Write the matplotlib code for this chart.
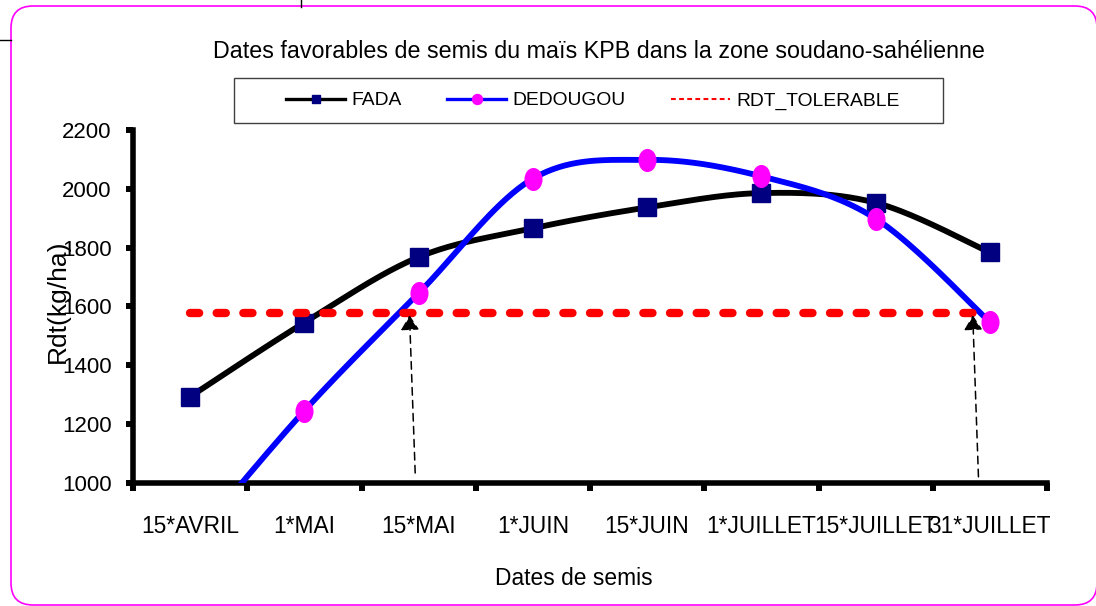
import matplotlib
matplotlib.use("Agg")
import matplotlib.pyplot as plt
import numpy as np
from matplotlib import font_manager
from matplotlib.lines import Line2D
from matplotlib.patches import FancyBboxPatch, Rectangle
from matplotlib.path import Path
from matplotlib.transforms import IdentityTransform

# data
dates = ["15*AVRIL", "1*MAI", "15*MAI", "1*JUIN", "15*JUIN",
         "1*JUILLET", "15*JUILLET", "31*JUILLET"]
fada = [1293, 1545, 1768, 1866, 1937, 1986, 1953, 1784]
dedougou = [790, 1245, 1645, 2035, 2099, 2043, 1899, 1547]
rdt_tolerable = [1578, 1578, 1578, 1578, 1578, 1578, 1578, 1578]
y_ticks = [1000, 1200, 1400, 1600, 1800, 2000, 2200]

# dashed arrows marking the sowing window (category position, value)
arrow_tails = [(1.97, 1033), (6.90, 1020)]
arrow_heads = [(1.92, 1570), (6.85, 1570)]

available = {f.name for f in font_manager.fontManager.ttflist}
if "Liberation Sans Narrow" in available:
    NARROW, k = "Liberation Sans Narrow", 1.0
else:
    NARROW, k = "Liberation Sans", 0.82
REGULAR = "Liberation Sans"


def excel_smooth(xs, ys, n=40):
    """Catmull-Rom style bezier, like Excel's smoothed line."""
    P = np.column_stack([xs, ys]).astype(float)
    ext = np.vstack([P[0], P, P[-1]])
    t = np.linspace(0, 1, n)[:, None]
    parts = []
    for i in range(len(P) - 1):
        p0, p1, p2, p3 = ext[i], ext[i + 1], ext[i + 2], ext[i + 3]
        c1 = p1 + (p2 - p0) / 6.0
        c2 = p2 - (p3 - p1) / 6.0
        seg = ((1 - t) ** 3) * p1 + 3 * (1 - t) ** 2 * t * c1 \
            + 3 * (1 - t) * t ** 2 * c2 + t ** 3 * p2
        parts.append(seg if i == 0 else seg[1:])
    out = np.vstack(parts)
    return out[:, 0], out[:, 1]


# tall ellipse marker for DEDOUGOU
circ = Path.unit_circle()
ellipse = Path(circ.vertices * np.array([0.77, 1.0]), circ.codes)

W, H = 1096, 606
fig = plt.figure(figsize=(W / 100, H / 100), dpi=100)
fig.patch.set_facecolor("white")
ax = fig.add_axes([133 / W, 1 - 482.7 / H, 914 / W, 352.5 / H])

x = np.arange(len(dates))

sx, sy = excel_smooth(x, fada)
ax.plot(sx, sy, color="black", lw=4.2, zorder=2, solid_capstyle="butt")
ax.plot(x, fada, ls="none", marker="s", ms=12.7, mfc="#000080",
        mec="#000080", zorder=2.1)

sx, sy = excel_smooth(x, dedougou)
ax.plot(sx, sy, color="#0000ff", lw=4.2, zorder=3, solid_capstyle="butt")
ax.plot(x, dedougou, ls="none", marker=ellipse, ms=15.6, mfc="#ff00ff",
        mec="#ff00ff", zorder=3.1)

ax.plot(x, rdt_tolerable, color="#ff0000", lw=6.0, dashes=(1.1, 2.1),
        dash_capstyle="round", zorder=4)

for (tx, ty), (hx, hy) in zip(arrow_tails, arrow_heads):
    ax.annotate("", xy=(hx, hy), xytext=(tx, ty),
                arrowprops=dict(arrowstyle="-|>,head_length=0.45,head_width=0.28",
                                mutation_scale=20, color="black", lw=1.1,
                                linestyle=(0, (5, 3.5)), shrinkA=0, shrinkB=0),
                zorder=5)

ax.set_xlim(-0.5, len(dates) - 0.5)
ax.set_ylim(y_ticks[0], y_ticks[-1])
ax.set_xticks(np.arange(-0.5, len(dates), 1.0))
ax.set_xticklabels([])
ax.set_xticks(x, minor=True)
ax.set_xticklabels(dates, minor=True, fontsize=20 * k, family=NARROW)
ax.set_yticks(y_ticks)
ax.set_yticklabels([str(v) for v in y_ticks], fontsize=19.5 * k, family=NARROW)

ax.tick_params(axis="x", which="major", direction="out", length=5.8, width=4.3)
ax.tick_params(axis="x", which="minor", length=0, pad=23)
ax.tick_params(axis="y", direction="out", length=5, width=4.3, pad=10.5)

for side in ("top", "right"):
    ax.spines[side].set_visible(False)
for side in ("left", "bottom"):
    ax.spines[side].set_linewidth(4.0)
    ax.spines[side].set_capstyle("projecting")

ax.set_xlabel("Dates de semis", fontsize=20 * k, family=NARROW, va="baseline")
ax.xaxis.set_label_coords((574 - 133) / 914, (482.7 - 585) / 352.5)
ax.set_ylabel("Rdt(kg/ha)", fontsize=19, family=REGULAR, va="center")
ax.yaxis.set_label_coords((58 - 133) / 914, (482.7 - 301) / 352.5)

fig.text(599 / W, 1 - 58.3 / H,
         "Dates favorables de semis du maïs KPB dans la zone soudano-sahélienne",
         ha="center", va="baseline", fontsize=20.4 * k, family=NARROW)

# legend
leg_size = 16.8 * k * 1.01 if k == 1.0 else 13.9
em = leg_size * 100 / 72
handles = [
    Line2D([], [], color="black", lw=2.4, marker="s", ms=5.5,
           mfc="#000080", mec="#000080"),
    Line2D([], [], color="#0000ff", lw=2.4, marker="o", ms=7.2,
           mfc="#ff00ff", mec="#ff00ff"),
    Line2D([], [], color="#ff0000", lw=1.5, dashes=(2.3, 1.6)),
]
fig.legend(handles, ["FADA", "DEDOUGOU", "RDT_TOLERABLE"], ncol=3,
           loc="center", bbox_to_anchor=(593 / W, 1 - 100.7 / H),
           frameon=False, numpoints=1, handlelength=59 / em,
           handletextpad=6.7 / em, columnspacing=45 / em,
           prop={"family": NARROW, "size": leg_size})
fig.add_artist(Rectangle((234 / W, 1 - 123.3 / H), 709 / W, 45 / H,
                         transform=fig.transFigure, fill=False,
                         ec="#404040", lw=1.0))

# rounded magenta frame of the chart area + stray page borders
fig.add_artist(FancyBboxPatch((11, 1), 1086, 599,
                              boxstyle="round,pad=0,rounding_size=22",
                              transform=IdentityTransform(), fill=False,
                              ec="#ff00ff", lw=1.2))
fig.add_artist(Line2D([301, 301], [H, H - 7], transform=IdentityTransform(),
                      color="black", lw=1.0))
fig.add_artist(Line2D([0, 11], [H - 40, H - 40], transform=IdentityTransform(),
                      color="black", lw=1.0))

fig.savefig("out.png", dpi=100)
plt.close("all")
